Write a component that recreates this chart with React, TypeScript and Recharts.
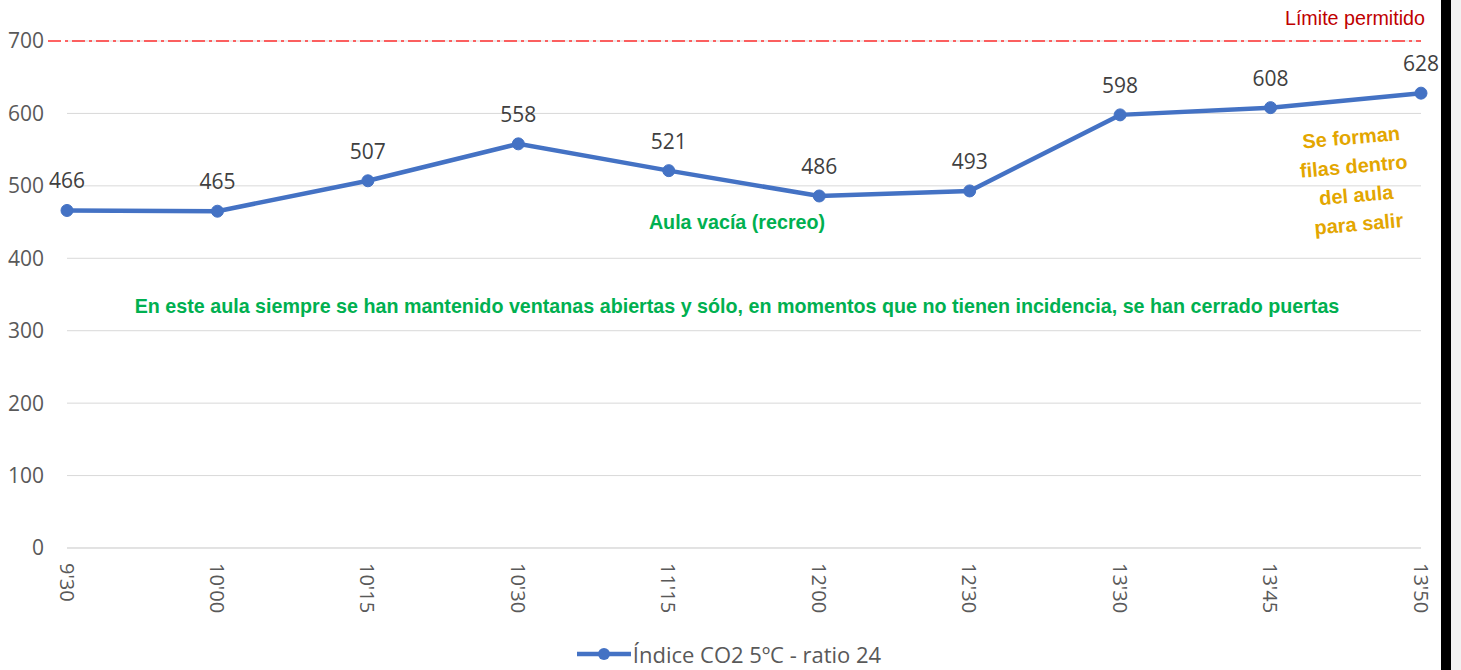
import React from "react";
import { LineChart, Line, XAxis, YAxis, CartesianGrid, Legend, LabelList, ReferenceLine } from "recharts";

const categories = ["9'30", "10'00", "10'15", "10'30", "11'15", "12'00", "12'30", "13'30", "13'45", "13'50"];
const co2Values = [466, 465, 507, 558, 521, 486, 493, 598, 608, 628];
const yTicks = [0, 100, 200, 300, 400, 500, 600, 700];
const seriesName = "Índice CO2 5ºC - ratio 24";
const limitValue = 700;
const limitLabel = "Límite permitido";
const noteEmpty = "Aula vacía (recreo)";
const noteWindows = "En este aula siempre se han mantenido ventanas abiertas y sólo, en momentos que no tienen incidencia, se han cerrado puertas";
const noteQueue = ["Se forman", "filas dentro", "del aula", "para salir"];

const data = categories.map((c, i) => ({ time: c, value: co2Values[i] }));

const BLUE = "#4472C4";
const FONT = "'Open Sans', 'Noto Sans', sans-serif";
const BOLD_FONT = "'Liberation Sans', Arial, sans-serif";

const XTick = (props: any) => {
  const { x, y, payload } = props;
  return (
    <text
      transform={`translate(${x},${y}) rotate(90)`}
      x={0}
      y={0}
      textAnchor="start"
      dominantBaseline="central"
      fill="#595959"
      fontSize={20}
      fontFamily={FONT}
    >
      {payload.value}
    </text>
  );
};

const LimitShape = (props: any) => {
  const { x1, y1, x2, y2 } = props;
  return (
    <line x1={x1 - 19} y1={y1} x2={x2} y2={y2} stroke="#FF3030" strokeWidth={1.5} strokeDasharray="13 4 3 4" />
  );
};

const LegendContent = () => (
  <div style={{ display: "flex", justifyContent: "center", alignItems: "center", paddingTop: 9, paddingLeft: 36, fontFamily: FONT }}>
    <svg width={56} height={16} style={{ marginRight: 1 }}>
      <line x1={1} y1={8} x2={55} y2={8} stroke={BLUE} strokeWidth={4.5} />
      <circle cx={28} cy={8} r={6} fill={BLUE} />
    </svg>
    <span style={{ fontSize: 22, color: "#595959" }}>{seriesName}</span>
  </div>
);

export default function App() {
  return (
    <div style={{ position: "absolute", left: 0, top: 0, width: 1461, height: 670, background: "#fff", overflow: "hidden" }}>
      <LineChart width={1461} height={670} data={data} margin={{ top: 41, right: 40, left: 0, bottom: 0 }}>
        <CartesianGrid vertical={false} stroke="#D9D9D9" strokeWidth={1} />
        <XAxis
          dataKey="time"
          height={82}
          tick={<XTick />}
          tickLine={false}
          axisLine={{ stroke: "#D9D9D9" }}
          tickSize={0}
          tickMargin={15}
          interval={0}
        />
        <YAxis
          width={67}
          domain={[0, 700]}
          ticks={yTicks}
          tickLine={false}
          axisLine={false}
          tickSize={0}
          tickMargin={23}
          tick={{ fill: "#595959", fontSize: 21, fontFamily: FONT }}
          interval={0}
        />
        <ReferenceLine y={limitValue} shape={<LimitShape />} ifOverflow="visible" />
        <Legend verticalAlign="bottom" height={40} content={<LegendContent />} />
        <Line
          type="linear"
          dataKey="value"
          name={seriesName}
          stroke={BLUE}
          strokeWidth={4.5}
          dot={{ r: 6, fill: BLUE, stroke: BLUE, strokeWidth: 1 }}
          activeDot={false}
          isAnimationActive={false}
        >
          <LabelList dataKey="value" position="top" offset={22} fill="#404040" fontSize={21} fontFamily={FONT} />
        </Line>
      </LineChart>
      <div style={{ position: "absolute", left: 1245, top: 5, width: 180, textAlign: "right", color: "#C00000", fontFamily: BOLD_FONT, fontSize: 19.7, lineHeight: "26px", whiteSpace: "nowrap" }}>
        {limitLabel}
      </div>
      <div style={{ position: "absolute", left: 537, top: 208, width: 400, textAlign: "center", color: "#00B050", fontWeight: "bold", fontFamily: BOLD_FONT, fontSize: 19.7, lineHeight: "28px" }}>
        {noteEmpty}
      </div>
      <div style={{ position: "absolute", left: 0, top: 292, width: 1474, textAlign: "center", color: "#00B050", fontWeight: "bold", fontFamily: BOLD_FONT, fontSize: 19.7, lineHeight: "28px", whiteSpace: "nowrap" }}>
        {noteWindows}
      </div>
      <div style={{ position: "absolute", left: 1280, top: 123, width: 150, textAlign: "center", color: "#E3A600", fontWeight: "bold", fontFamily: BOLD_FONT, fontSize: 20, lineHeight: "29px", transform: "rotate(-5deg)" }}>
        {noteQueue.map((t) => (
          <div key={t}>{t}</div>
        ))}
      </div>
      <div style={{ position: "absolute", left: 1441, top: 0, width: 10, height: 670, background: "#000" }} />
      <div style={{ position: "absolute", left: 1451, top: 0, width: 10, height: 670, background: "#F2F2F2" }} />
    </div>
  );
}
